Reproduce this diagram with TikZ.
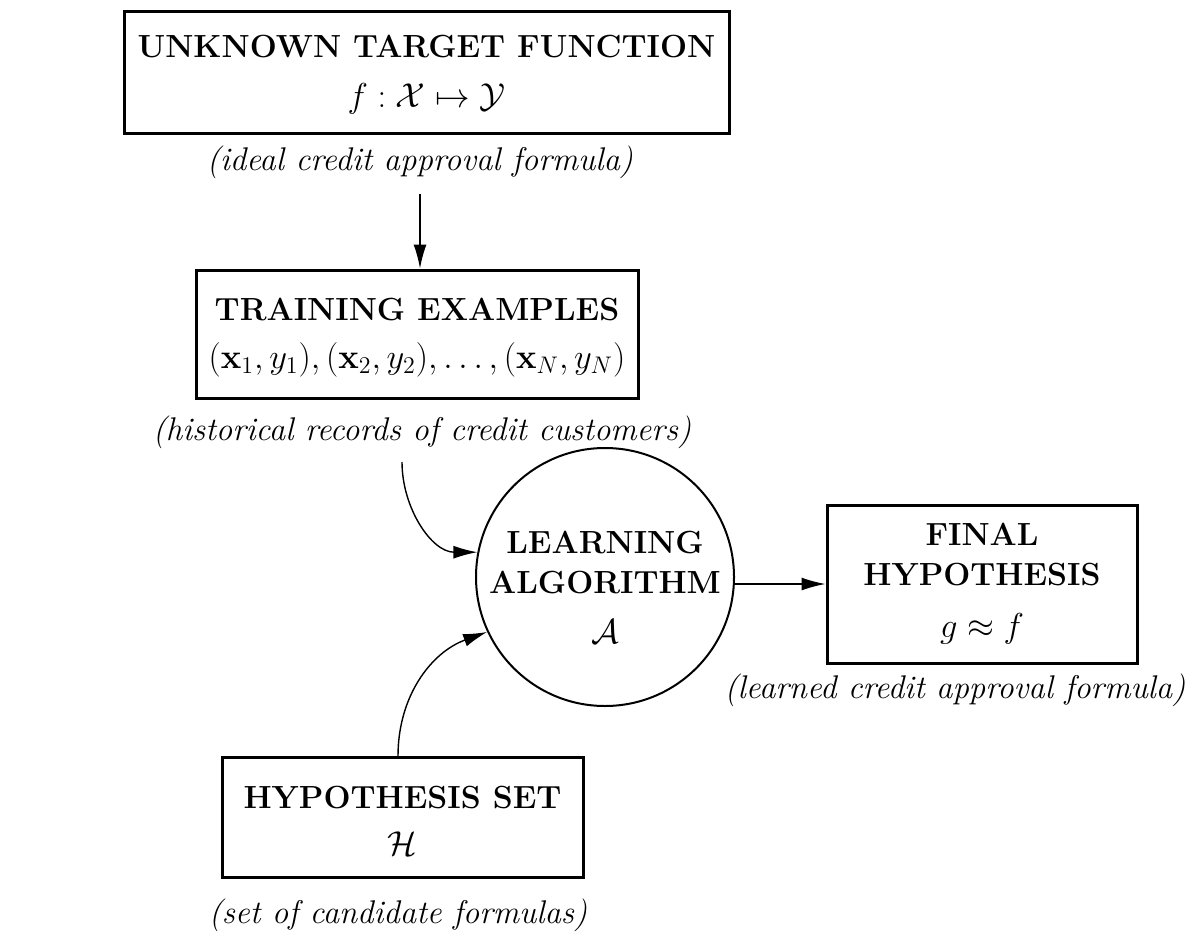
\documentclass[tikz,border=0pt]{standalone}
\usepackage{amsmath,amssymb}
\usetikzlibrary{arrows.meta,calc}
\begin{document}
\begin{tikzpicture}[x=0.5pt,y=-0.5pt,
  box/.style={draw,line width=1.5pt,rectangle,inner sep=0pt},
  algo/.style={draw,line width=1pt,circle,inner sep=0pt,minimum size=129pt},
  head/.style={inner sep=0pt,anchor=base,font=\fontsize{16}{18}\selectfont\bfseries},
  formula/.style={inner sep=0pt,anchor=base,font=\fontsize{17.5}{20}\selectfont},
  note/.style={inner sep=0pt,font=\fontsize{16.4}{18}\selectfont\itshape},
  arr/.style={line width=0.7pt,-{Latex[length=12pt,width=6.5pt]}}]
\useasboundingbox (0,0) rectangle (1203,936);
% boxes
\node[box,minimum width=302.5pt,minimum height=61pt] (target) at (426.5,73) {};
\node[box,minimum width=221pt,minimum height=64pt] (train) at (417,334) {};
\node[algo] (alg) at (605,577) {};
\node[box,minimum width=155pt,minimum height=79pt] (final) at (982,584) {};
\node[box,minimum width=180.5pt,minimum height=60pt] (hyp) at (402.5,817) {};
% texts
\node[head] (targetT) at (426.5,58) {UNKNOWN TARGET FUNCTION};
\node[formula] (targetF) at (426.5,108) {$f:\mathcal{X}\mapsto\mathcal{Y}$};
\node[note] (ideal) at (420,162) {(ideal credit approval formula)};
\node[head] (trainT) at (417,320) {TRAINING EXAMPLES};
\node[formula] (trainF) at (417,368) {$(\mathbf{x}_1,y_1),(\mathbf{x}_2,y_2),\ldots,(\mathbf{x}_N,y_N)$};
\node[note] (hist) at (422,432) {(historical records of credit customers)};
\node[head] (algT1) at (605,553) {LEARNING};
\node[head] (algT2) at (605,593) {ALGORITHM};
\node[formula] (algF) at (605,643) {$\mathcal{A}$};
\node[head] (finalT1) at (982,545) {FINAL};
\node[head] (finalT2) at (982,585) {HYPOTHESIS};
\node[formula] (finalF) at (982,637) {$g\approx f$};
\node[note] (learned) at (955,690) {(learned credit approval formula)};
\node[head] (hypT) at (402.5,808) {HYPOTHESIS SET};
\node[formula] (hypF) at (402.5,855) {$\mathcal{H}$};
\node[note] (cand) at (398,915) {(set of candidate formulas)};
% connectors
\coordinate (s1) at (402,462);
\coordinate (s2) at (398,756);
\draw[arr] ($(ideal.south)+(0,15)$) -- (ideal.south |- train.north);
\draw[arr] (s1) to[out=-90,in=180] (alg.169);
\draw[arr] (s2) to[out=90,in=200] (alg.205);
\draw[arr] (alg.east |- final.west) -- (final.west);
\end{tikzpicture}
\end{document}
